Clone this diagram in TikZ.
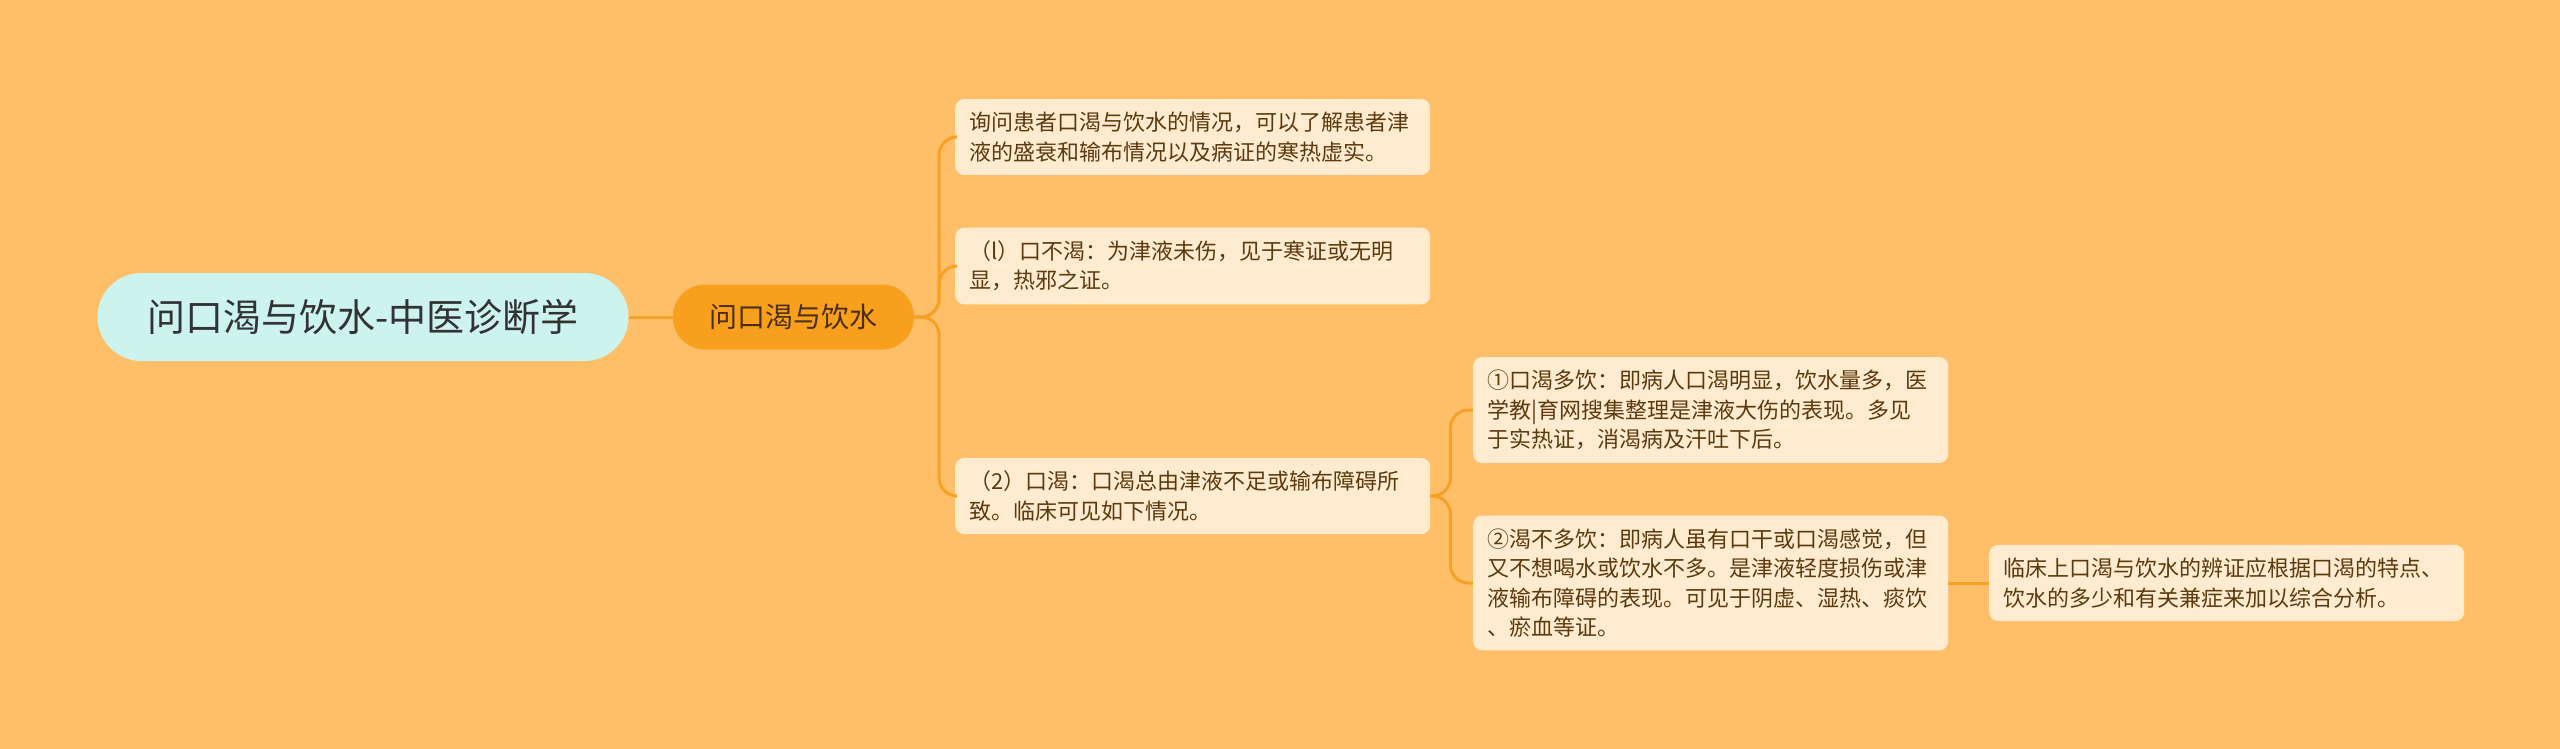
\documentclass[tikz,border=0pt]{standalone}
\usepackage{fontspec}
\setmainfont{Noto Sans CJK SC}
\usetikzlibrary{positioning}
\definecolor{bgorange}{RGB}{255,191,105}
\definecolor{rootfill}{RGB}{204,243,238}
\definecolor{mainfill}{RGB}{248,160,30}
\definecolor{leaffill}{RGB}{255,235,207}
\definecolor{leaftext}{RGB}{92,58,14}
\definecolor{linkorange}{RGB}{246,160,38}

\begin{document}
\begin{tikzpicture}
                [x=1pt, y=-1pt,
                 leaf/.style={rectangle, fill=leaffill, text=leaftext, rounded corners=9pt,
                   inner xsep=14pt, inner ysep=13pt, text width=447pt, align=left,
                   font=\fontsize{22}{29.5}\selectfont},
                 link/.style={draw=linkorange, line width=3pt, rounded corners=18pt}]
                \useasboundingbox[fill=bgorange] (0,0) rectangle (2560,749);
                \node (root) [fill=rootfill, text=black!80, minimum width=531pt, minimum height=88pt,
                  rounded corners=44pt, font=\fontsize{38}{40}\selectfont] at (363,317) {问口渴与饮水-中医诊断学};
                \node (main) [right=44pt of root, fill=mainfill, text=leaftext!80!black, minimum width=241pt,
                  minimum height=65pt, rounded corners=32pt, font=\fontsize{28}{30}\selectfont] {问口渴与饮水};
                \node (a) [leaf, anchor=west] at (955,137) {询问患者口渴与饮水的情况，可以了解患者津\\液的盛衰和输布情况以及病证的寒热虚实。};
                \node (b) [leaf, anchor=west] at (955,266) {（l）口不渴：为津液未伤，见于寒证或无明\\显，热邪之证。};
                \node (c) [leaf, anchor=west] at (955,496) {（2）口渴：口渴总由津液不足或输布障碍所\\致。临床可见如下情况。};
                \node (c1) [leaf, anchor=west] at (1473,410) {①口渴多饮：即病人口渴明显，饮水量多，医\\学教|育网搜集整理是津液大伤的表现。多见\\于实热证，消渴病及汗吐下后。};
                \node (c2) [leaf, anchor=west] at (1473,583) {②渴不多饮：即病人虽有口干或口渴感觉，但\\又不想喝水或饮水不多。是津液轻度损伤或津\\液输布障碍的表现。可见于阴虚、湿热、痰饮\\、瘀血等证。};
                \node (d) [leaf, anchor=west] at (1989,583) {临床上口渴与饮水的辨证应根据口渴的特点、\\饮水的多少和有关兼症来加以综合分析。};
                \coordinate (s1) at ([xshift=25pt]main.east);
                \coordinate (s2) at ([xshift=20pt]c.east);
                \draw[link] (root) -- (main);
                \draw[link] (main.east) -- (s1) |- (a.west);
                \draw[link] (main.east) -- (s1) |- (b.west);
                \draw[link] (main.east) -- (s1) |- (c.west);
                \draw[link] (c.east) -- (s2) |- (c1.west);
                \draw[link] (c.east) -- (s2) |- (c2.west);
                \draw[link] (c2) -- (d);
            \end{tikzpicture}
\end{document}
